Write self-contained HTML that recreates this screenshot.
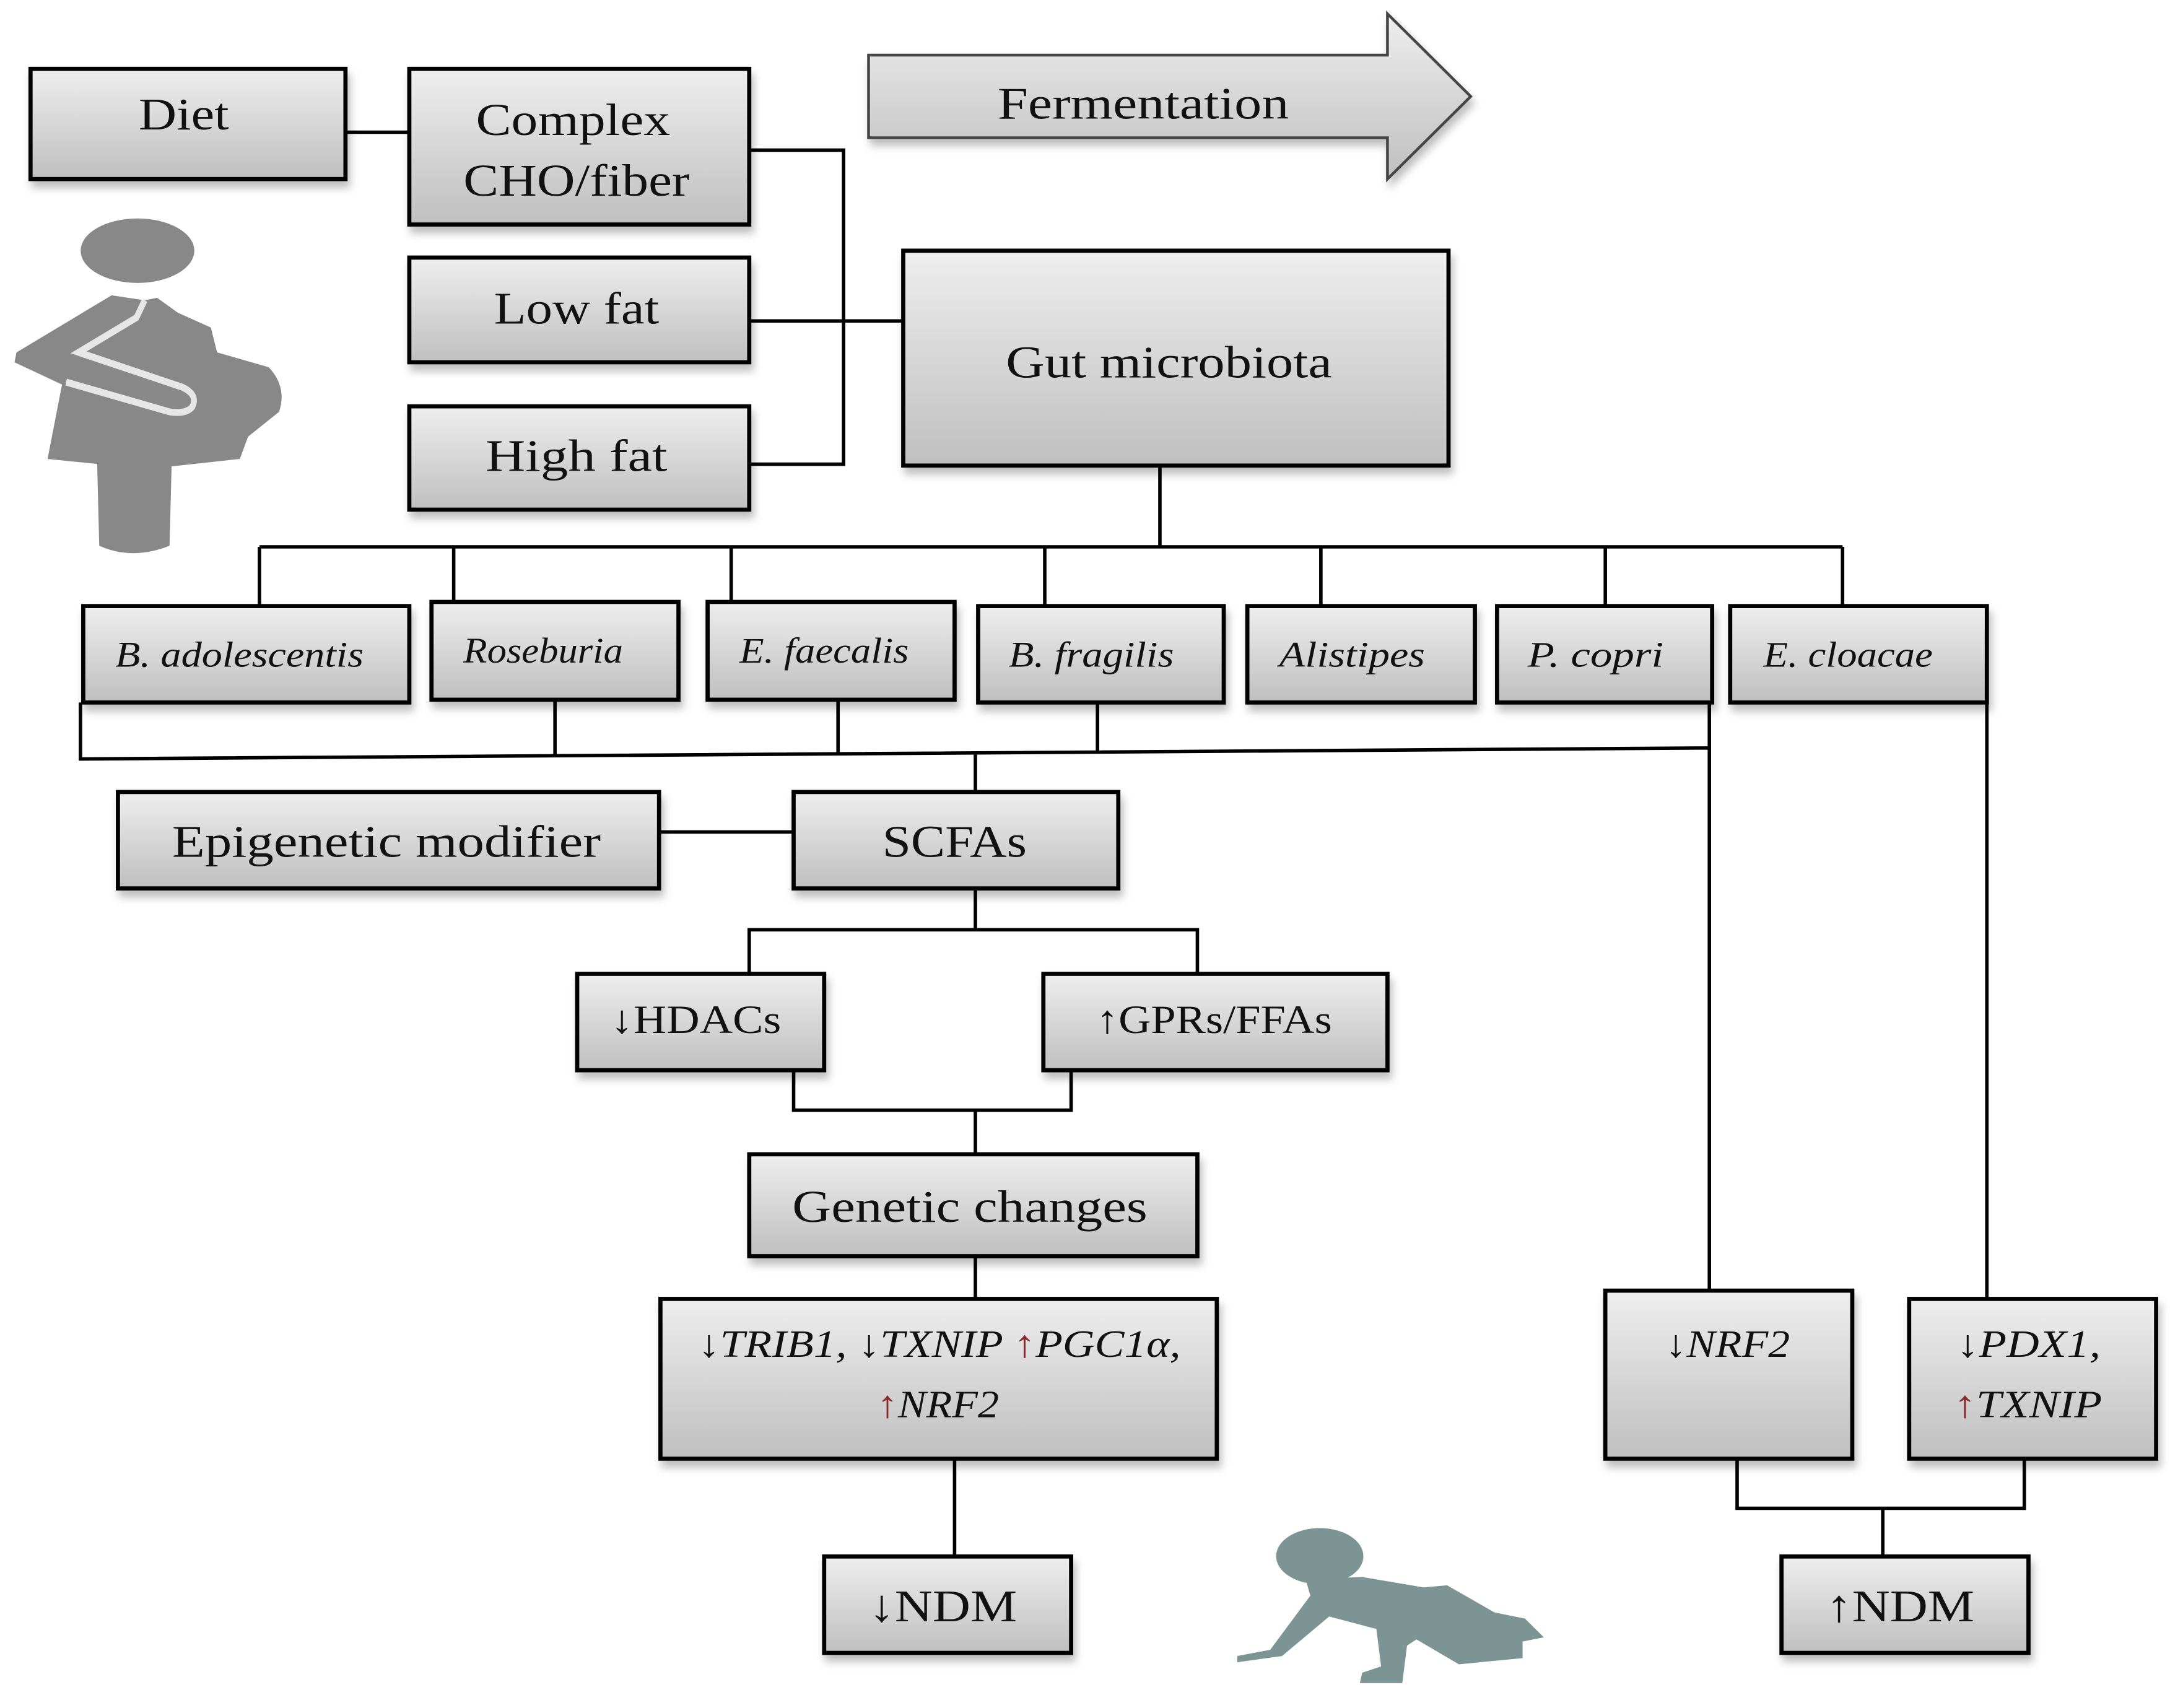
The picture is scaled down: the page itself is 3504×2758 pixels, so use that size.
<!DOCTYPE html>
<html><head><meta charset="utf-8"><style>
html,body{margin:0;padding:0;background:#fff;}
svg{display:block;}
text{font-family:"Liberation Serif",serif;fill:#111;}
</style></head><body>
<svg width="3504" height="2758" viewBox="0 0 1564 1240" preserveAspectRatio="none" xmlns="http://www.w3.org/2000/svg">
<defs>
<linearGradient id="g" x1="0" y1="0" x2="0" y2="1"><stop offset="0" stop-color="#eeeeee"/><stop offset="1" stop-color="#bfbfbf"/></linearGradient>
<filter id="s" x="-5%" y="-5%" width="115%" height="130%"><feDropShadow dx="2" dy="5" stdDeviation="3" flood-color="#000" flood-opacity="0.25"/></filter>
</defs>
<g fill="none" stroke="#000" stroke-width="2.5">
<path d="M249 96H295"/>
<path d="M540 109H608V337H540M540 233H651"/>
<path d="M836 338V397M187 397H1328M187 397V440M327 397V438M527 397V438M753 397V440M952 397V440M1157 397V440M1328 397V440"/>
<path d="M58 510V551L1232 543M400 508V548M604 508V548M791 510V546M1232 510V937M1432 510V943M703 546V575"/>
<path d="M475 604H572M703 645V675M540 707V675H863V707M572 777V806H772V777M703 806V838M703 912V943M688 1059V1130M1252 1059V1095H1459V1059M1357 1095V1130"/>
</g>
<g fill="url(#g)" stroke="#000" stroke-width="3" filter="url(#s)">
<rect x="22" y="50" width="227" height="80"/>
<rect x="295" y="50" width="245" height="113"/>
<rect x="295" y="187" width="245" height="76"/>
<rect x="295" y="295" width="245" height="75"/>
<path d="M626 40H1000V10L1060 70L1000 130V100H626Z" stroke-width="2" stroke="#444"/>
<rect x="651" y="182" width="393" height="156"/>
<rect x="60" y="440" width="235" height="70"/>
<rect x="311" y="437" width="178" height="71"/>
<rect x="510" y="437" width="178" height="71"/>
<rect x="705" y="440" width="177" height="70"/>
<rect x="899" y="440" width="164" height="70"/>
<rect x="1079" y="440" width="155" height="70"/>
<rect x="1247" y="440" width="185" height="70"/>
<rect x="85" y="575" width="390" height="70"/>
<rect x="572" y="575" width="234" height="70"/>
<rect x="416" y="707" width="178" height="70"/>
<rect x="752" y="707" width="248" height="70"/>
<rect x="540" y="838" width="323" height="74"/>
<rect x="476" y="943" width="401" height="116"/>
<rect x="1157" y="937" width="178" height="122"/>
<rect x="1376" y="943" width="178" height="116"/>
<rect x="594" y="1130" width="178" height="70"/>
<rect x="1284" y="1130" width="178" height="70"/>
</g>
<g font-size="33" lengthAdjust="spacingAndGlyphs">
<text x="100" y="94" textLength="65" lengthAdjust="spacingAndGlyphs">Diet</text>
<text x="343" y="98" textLength="140" lengthAdjust="spacingAndGlyphs">Complex</text>
<text x="334" y="142" textLength="163" lengthAdjust="spacingAndGlyphs">CHO/fiber</text>
<text x="356" y="235" textLength="119" lengthAdjust="spacingAndGlyphs">Low fat</text>
<text x="350" y="342" textLength="131" lengthAdjust="spacingAndGlyphs">High fat</text>
<text x="719" y="86" textLength="210" lengthAdjust="spacingAndGlyphs">Fermentation</text>
<text x="725" y="274" textLength="235" lengthAdjust="spacingAndGlyphs">Gut microbiota</text>
<text x="124" y="622" textLength="309" lengthAdjust="spacingAndGlyphs">Epigenetic modifier</text>
<text x="636" y="622" textLength="104" lengthAdjust="spacingAndGlyphs">SCFAs</text>
<text x="440" y="750" font-size="29" textLength="123" lengthAdjust="spacingAndGlyphs">↓HDACs</text>
<text x="790" y="750" font-size="29" textLength="170" lengthAdjust="spacingAndGlyphs">↑GPRs/FFAs</text>
<text x="571" y="887" textLength="256" lengthAdjust="spacingAndGlyphs">Genetic changes</text>
<text x="626" y="1177" textLength="107" lengthAdjust="spacingAndGlyphs">↓NDM</text>
<text x="1316" y="1177" textLength="107" lengthAdjust="spacingAndGlyphs">↑NDM</text>
</g>
<g font-size="26" font-style="italic">
<text x="83" y="484" textLength="179" lengthAdjust="spacingAndGlyphs">B. adolescentis</text>
<text x="334" y="481" textLength="115" lengthAdjust="spacingAndGlyphs">Roseburia</text>
<text x="533" y="481" textLength="122" lengthAdjust="spacingAndGlyphs">E. faecalis</text>
<text x="727" y="484" textLength="119" lengthAdjust="spacingAndGlyphs">B. fragilis</text>
<text x="922" y="484" textLength="105" lengthAdjust="spacingAndGlyphs">Alistipes</text>
<text x="1101" y="484" textLength="98" lengthAdjust="spacingAndGlyphs">P. copri</text>
<text x="1271" y="484" textLength="122" lengthAdjust="spacingAndGlyphs">E. cloacae</text>
<text x="503" y="985" font-size="28" textLength="348" lengthAdjust="spacingAndGlyphs">↓TRIB1, ↓TXNIP <tspan fill="#8a2a2a">↑</tspan>PGC1α,</text>
<text x="632" y="1029" font-size="28" textLength="88" lengthAdjust="spacingAndGlyphs"><tspan fill="#8a2a2a">↑</tspan>NRF2</text>
<text x="1200" y="985" font-size="28" textLength="90" lengthAdjust="spacingAndGlyphs">↓NRF2</text>
<text x="1410" y="985" font-size="28" textLength="104" lengthAdjust="spacingAndGlyphs">↓PDX1,</text>
<text x="1408" y="1029" font-size="28" textLength="107" lengthAdjust="spacingAndGlyphs"><tspan fill="#8a2a2a">↑</tspan>TXNIP</text>
</g>
<!-- pregnant woman -->
<g transform="translate(0,137) scale(0.149,0.18)">
<ellipse cx="665" cy="250" rx="275" ry="130" fill="#888"/>
<path d="M540 430 L80 660 L70 700 L300 790 L230 1090 L470 1110 L480 1440 Q640 1500 820 1440 L830 1120 L1160 1090 L1200 1000 L1350 900 Q1390 800 1300 720 L1050 660 L1020 560 L860 500 L760 440 L700 450 Z" fill="#888"/>
<path d="M700 450 L660 520 L380 660 L880 800 Q960 830 930 880 Q900 910 820 900 L320 780" fill="none" stroke="#e6e6e6" stroke-width="28"/>
</g>
<!-- baby -->
<g transform="translate(873,1086) scale(0.17,0.151)" fill="#7d9494">
<ellipse cx="460" cy="290" rx="185" ry="135"/>
<path d="M400 400 L640 390 L900 440 L1000 430 L1200 560 L1330 590 L1410 680 L1320 700 L1320 780 L1050 810 L870 690 L830 720 L810 900 L630 900 L640 850 L720 820 L700 640 L500 580 L300 770 L110 800 L110 770 L250 740 L420 480 Z"/>
</g>
</svg>
</body></html>
